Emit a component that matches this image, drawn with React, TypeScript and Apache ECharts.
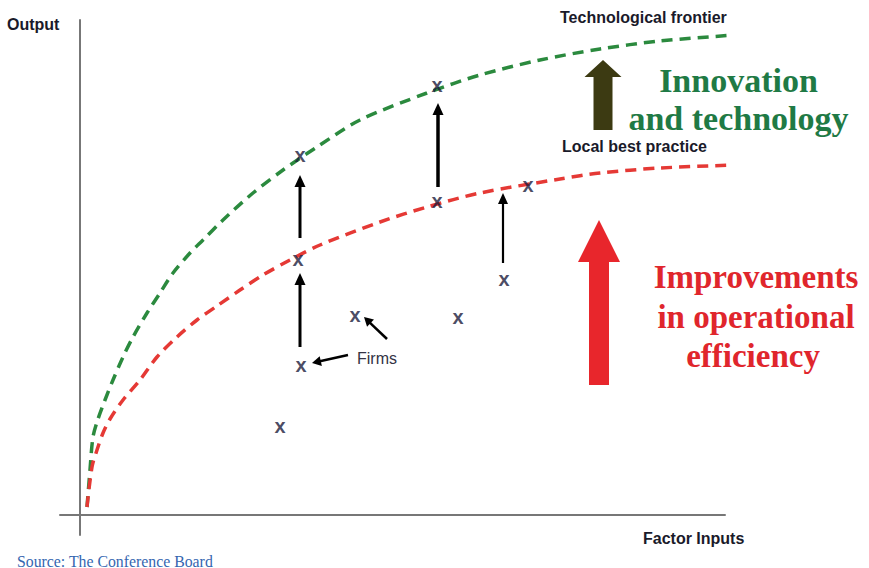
import React, { useEffect, useRef } from "react";
import * as echarts from "echarts";

// Technological frontier curve
const frontierX = [0.7, 1.0, 1.3, 1.8, 2.5, 3.3, 4.3, 5.3, 6.7, 8.0, 9.3, 11.0, 12.3, 14.3, 17.3, 20.3, 23.7, 28.0, 34.7, 40.0, 46.0, 52.0, 58.0, 65.5];
const frontierY = [0.8, 4.5, 7.8, 9.6, 11.5, 13.5, 15.8, 17.8, 20.2, 22.2, 24.2, 26.2, 27.5, 29.5, 32.2, 34.5, 36.8, 39.5, 42.2, 44.0, 45.5, 46.6, 47.4, 48.0];
// Local best practice curve
const localX = [0.7, 1.2, 1.7, 2.3, 3.0, 4.3, 6.0, 7.7, 9.7, 11.7, 13.7, 16.0, 18.3, 21.0, 24.0, 30.0, 34.7, 40.0, 48.0, 52.0, 58.0, 65.5];
const localY = [0.8, 4.8, 6.5, 8.2, 9.6, 11.5, 13.5, 15.8, 17.8, 19.5, 20.9, 22.5, 24.0, 25.5, 27.0, 29.3, 30.8, 32.2, 33.6, 34.2, 34.7, 35.0];
// Firms
const firmX = [22.0, 35.7, 21.8, 35.7, 44.8, 42.4, 27.5, 37.8, 22.1, 20.0];
const firmY = [35.8, 42.8, 25.4, 31.2, 32.8, 23.4, 19.8, 19.6, 14.8, 8.7];
// Thin arrows (from -> to)
const arrowFromX = [22.0, 22.0, 35.8, 42.3, 26.8, 30.7];
const arrowFromY = [16.8, 27.7, 32.8, 25.2, 16.0, 17.6];
const arrowToX = [22.0, 22.0, 35.8, 42.3, 23.2, 28.4];
const arrowToY = [24.2, 34.0, 41.2, 32.2, 15.2, 19.8];
// Block arrows (efficiency, innovation)
const blockArrowX = [51.9, 52.3];
const blockArrowFrom = [13.0, 38.5];
const blockArrowTo = [29.5, 45.5];

const thinWidths = [3, 3, 3.5, 2.2, 2.5, 2.5];
const thinHead = [
  [12, 5.5], [12, 5.5], [12, 5.5], [11, 5], [9, 5], [9, 5],
];
const blockStyles = [
  { color: "#e8262c", shaft: 10, head: 21, headLen: 42 },
  { color: "#3c3a12", shaft: 9.5, head: 18.5, headLen: 17 },
];

export default function App() {
  const ref = useRef<HTMLDivElement>(null);
  useEffect(() => {
    if (!ref.current) return;
    const chart = echarts.init(ref.current, null, { renderer: "svg" });
    const zip = (a: number[], b: number[]) => a.map((v, i) => [v, b[i]]);
    const sans = "'Liberation Sans', Arial, sans-serif";
    const serif = "'Liberation Serif', 'Times New Roman', serif";

    const option: any = {
      animation: false,
      backgroundColor: "#ffffff",
      grid: { left: 60, right: 144, top: 20, bottom: 33 },
      xAxis: {
        type: "value", min: -2, max: 64.5,
        axisLine: { show: true, onZero: true, lineStyle: { color: "#777", width: 2 } },
        axisTick: { show: false }, axisLabel: { show: false }, splitLine: { show: false },
      },
      yAxis: {
        type: "value", min: -2, max: 49.5,
        axisLine: { show: true, onZero: true, lineStyle: { color: "#777", width: 2 } },
        axisTick: { show: false }, axisLabel: { show: false }, splitLine: { show: false },
      },
      series: [
        {
          type: "line", data: zip(frontierX, frontierY), smooth: 0.3, symbol: "none", clip: false,
          lineStyle: { color: "#2b8a3e", width: 3.5, type: [11, 7], cap: "butt" }, z: 2,
        },
        {
          type: "line", data: zip(localX, localY), smooth: 0.3, symbol: "none", clip: false,
          lineStyle: { color: "#e53935", width: 3.5, type: [11, 7], cap: "butt" }, z: 2,
        },
        {
          type: "custom", clip: false, z: 4,
          data: arrowFromX.map((v, i) => [v, arrowFromY[i], arrowToX[i], arrowToY[i]]),
          renderItem: (params: any, api: any) => {
            const i = params.dataIndex;
            const p0 = api.coord([api.value(0), api.value(1)]);
            const p1 = api.coord([api.value(2), api.value(3)]);
            const dx = p1[0] - p0[0], dy = p1[1] - p0[1];
            const len = Math.sqrt(dx * dx + dy * dy);
            const ux = dx / len, uy = dy / len;
            const nx = -uy, ny = ux;
            const [hl, hw] = thinHead[i];
            const bx = p1[0] - ux * hl, by = p1[1] - uy * hl;
            return {
              type: "group",
              children: [
                { type: "line", shape: { x1: p0[0], y1: p0[1], x2: bx + ux * 1, y2: by + uy * 1 }, style: { stroke: "#000", lineWidth: thinWidths[i] } },
                { type: "polygon", shape: { points: [[p1[0], p1[1]], [bx + nx * hw, by + ny * hw], [bx - nx * hw, by - ny * hw]] }, style: { fill: "#000" } },
              ],
            };
          },
        },
        {
          type: "custom", clip: false, z: 3,
          data: blockArrowX.map((v, i) => [v, blockArrowFrom[i], blockArrowTo[i]]),
          renderItem: (params: any, api: any) => {
            const s = blockStyles[params.dataIndex];
            const b = api.coord([api.value(0), api.value(1)]);
            const t = api.coord([api.value(0), api.value(2)]);
            const x = b[0];
            const hb = t[1] + s.headLen;
            return {
              type: "polygon",
              shape: {
                points: [
                  [x - s.shaft, b[1]], [x - s.shaft, hb], [x - s.head, hb], [x, t[1]],
                  [x + s.head, hb], [x + s.shaft, hb], [x + s.shaft, b[1]],
                ],
              },
              style: { fill: s.color },
            };
          },
        },
        {
          type: "scatter", data: zip(firmX, firmY), symbolSize: 0.1, clip: false, z: 5,
          itemStyle: { color: "transparent" },
          label: {
            show: true, position: "inside", formatter: "x", offset: [0, -2],
            fontFamily: sans, fontWeight: "bold", fontSize: 20, color: "#1c1c3c",
          },
        },
      ],
      graphic: [
        { type: "text", left: 7, top: 16, style: { text: "Output", font: `bold 16px ${sans}`, fill: "#1a1a2a" } },
        { type: "text", x: 560, y: 17.5, style: { text: "Technological frontier", font: `bold 16px ${sans}`, fill: "#1a1a2a", verticalAlign: "middle" } },
        { type: "text", x: 562, y: 146, style: { text: "Local best practice", font: `bold 16px ${sans}`, fill: "#1a1a2a", verticalAlign: "middle" } },
        { type: "text", x: 643, y: 538.5, style: { text: "Factor Inputs", font: `bold 16px ${sans}`, fill: "#1a1a2a", verticalAlign: "middle" } },
        { type: "text", x: 357, y: 358, style: { text: "Firms", font: `16px ${sans}`, fill: "#333344", verticalAlign: "middle" } },
        { type: "text", x: 738.5, y: 80.5, style: { text: "Innovation", font: `bold 34px ${serif}`, fill: "#1f7a45", align: "center", verticalAlign: "middle" } },
        { type: "text", x: 738.5, y: 118.5, style: { text: "and technology", font: `bold 34px ${serif}`, fill: "#1f7a45", align: "center", verticalAlign: "middle" } },
        { type: "text", x: 756, y: 277, style: { text: "Improvements", font: `bold 33px ${serif}`, fill: "#e0262c", align: "center", verticalAlign: "middle" } },
        { type: "text", x: 756, y: 317, style: { text: "in operational", font: `bold 33px ${serif}`, fill: "#e0262c", align: "center", verticalAlign: "middle" } },
        { type: "text", x: 753, y: 356, style: { text: "efficiency", font: `bold 33px ${serif}`, fill: "#e0262c", align: "center", verticalAlign: "middle" } },
        { type: "text", x: 17, y: 561, style: { text: "Source: The Conference Board", font: `15.8px ${serif}`, fill: "#3566b0", verticalAlign: "middle" } },
      ],
    };
    chart.setOption(option);
    return () => chart.dispose();
  }, []);
  return <div ref={ref} style={{ width: 869, height: 568, position: "absolute", left: 0, top: 0 }} />;
}
